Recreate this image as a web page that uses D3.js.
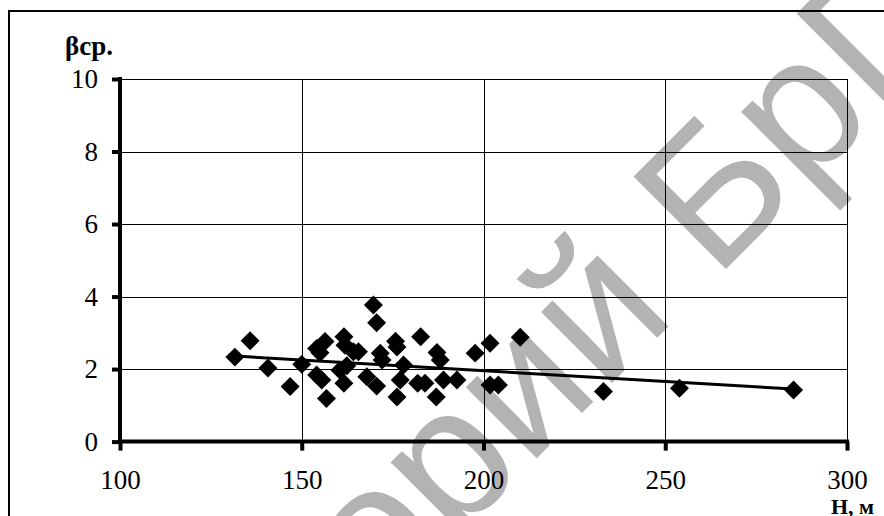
<!DOCTYPE html>
<html lang="ru">
<head>
<meta charset="UTF-8">
<title>βср. от H</title>
<script src="https://d3js.org/d3.v7.min.js"></script>
<style>
  html, body { margin: 0; padding: 0; background: #fff; }
  svg { display: block; }
</style>
</head>
<body>
<div id="chart"></div>
<script>
// values
const hValues = [131.6, 135.8, 140.7, 146.8, 150.0, 154.1, 156.4, 154.1, 155.5, 156.8,
                 161.6, 161.9, 161.6, 162.4, 165.6, 167.9, 169.7, 170.6, 170.6, 171.6,
                 172.1, 175.8, 176.2, 177.1, 176.2, 178.0, 182.7, 181.9, 183.9, 187.2,
                 188.1, 187.0, 189.0, 192.7, 197.7, 201.8, 201.8, 204.1, 210.1, 233.0,
                 253.9, 285.3, 155.0, 160.5, 164.2];
const betaValues = [2.33, 2.78, 2.03, 1.52, 2.13, 2.57, 2.76, 1.84, 1.70, 1.19,
                    2.89, 2.66, 1.61, 2.09, 2.48, 1.79, 3.77, 3.28, 1.53, 2.44,
                    2.25, 2.77, 2.61, 1.70, 1.23, 2.11, 2.89, 1.61, 1.61, 2.46,
                    2.25, 1.23, 1.70, 1.70, 2.44, 2.71, 1.56, 1.56, 2.88, 1.38,
                    1.47, 1.42, 2.45, 1.97, 2.48];
// trend line end points
const trendH = [131.6, 285.3];
const trendBeta = [2.36, 1.45];

const xTicks = [100, 150, 200, 250, 300];
const yTicks = [0, 2, 4, 6, 8, 10];

const width = 884, height = 516;
const plot = { left: 120, right: 847, top: 79, bottom: 441.6 };
const font = '"Liberation Serif", "Times New Roman", serif';

const svg = d3.select('#chart').append('svg')
    .attr('width', width)
    .attr('height', height);

// watermark behind everything; the origin is where "Б" sits on the baseline
const wmText = 'Репозиторий БрГТУ';
const wm = svg.append('g')
    .attr('transform', 'translate(715,280) rotate(-45)');
const wmNode = wm.append('text')
    .attr('x', 0).attr('y', 0)
    .style('font-family', '"Liberation Sans", Arial, sans-serif')
    .style('font-size', '190px')
    .style('white-space', 'pre')
    .attr('fill', '#b3b3b3')
    .text(wmText);
const bPos = wmNode.node().getStartPositionOfChar(wmText.indexOf('Б')).x;
wmNode.attr('x', -bPos);

// outer frame (runs past the window on the right and bottom)
svg.append('rect')
    .attr('x', 9).attr('y', 11)
    .attr('width', 1000).attr('height', 1000)
    .attr('fill', 'none')
    .attr('stroke', '#000')
    .attr('stroke-width', 2);

const x = d3.scaleLinear().domain([100, 300]).range([plot.left, plot.right]);
const y = d3.scaleLinear().domain([0, 10]).range([plot.bottom, plot.top]);

// grid
svg.append('g')
    .selectAll('line')
    .data(yTicks.filter(d => d > 0))
    .enter().append('line')
    .attr('x1', plot.left).attr('x2', plot.right)
    .attr('y1', d => Math.round(y(d)) + 0.5).attr('y2', d => Math.round(y(d)) + 0.5)
    .attr('stroke', '#000').attr('stroke-width', 1);

svg.append('g')
    .selectAll('line')
    .data(xTicks.filter(d => d > 100))
    .enter().append('line')
    .attr('x1', d => Math.round(x(d)) + 0.5).attr('x2', d => Math.round(x(d)) + 0.5)
    .attr('y1', plot.top).attr('y2', plot.bottom)
    .attr('stroke', '#000').attr('stroke-width', 1);

// axes
const yAxis = svg.append('g')
    .attr('transform', `translate(${plot.left},0)`)
    .call(d3.axisLeft(y).tickValues(yTicks).tickSize(8).tickPadding(14).tickFormat(d3.format('d')));
const xAxis = svg.append('g')
    .attr('transform', `translate(0,${plot.bottom})`)
    .call(d3.axisBottom(x).tickValues(xTicks).tickSize(9).tickPadding(19).tickFormat(d3.format('d')));

[yAxis, xAxis].forEach(a => {
    a.attr('font-family', font).attr('font-size', 27);
    a.select('.domain').attr('stroke', '#000').attr('stroke-width', 4)
        .attr('stroke-linecap', 'square');
    a.selectAll('.tick line').attr('stroke', '#000').attr('stroke-width', 4);
    a.selectAll('.tick text')
        .attr('font-family', font)
        .attr('font-size', 27)
        .attr('fill', '#000');
});
// d3 adds outer ticks to the domain path; redraw the domain as a plain line
yAxis.select('.domain').attr('d', `M0,${plot.top}V${plot.bottom}`);
xAxis.select('.domain').attr('d', `M${plot.left},0H${plot.right}`);

// points
const points = hValues.map((h, i) => ({ h: h, b: betaValues[i] }));
const diamond = d3.symbol().type(d3.symbolSquare).size(180);
svg.append('g')
    .selectAll('path')
    .data(points)
    .enter().append('path')
    .attr('d', diamond)
    .attr('transform', d => `translate(${x(d.h)},${y(d.b)}) rotate(45)`)
    .attr('fill', '#000');

// trend line
const trend = trendH.map((h, i) => ({ h: h, b: trendBeta[i] }));
svg.append('path')
    .datum(trend)
    .attr('d', d3.line().x(d => x(d.h)).y(d => y(d.b)))
    .attr('fill', 'none')
    .attr('stroke', '#000')
    .attr('stroke-width', 3);

// axis titles
svg.append('text')
    .attr('x', 65).attr('y', 55)
    .attr('font-family', font)
    .attr('font-weight', 'bold')
    .attr('font-size', 27)
    .text('βср.');

svg.append('text')
    .attr('x', 831).attr('y', 514)
    .attr('font-family', font)
    .attr('font-weight', 'bold')
    .attr('font-size', 22)
    .text('H, м');
</script>
</body>
</html>
